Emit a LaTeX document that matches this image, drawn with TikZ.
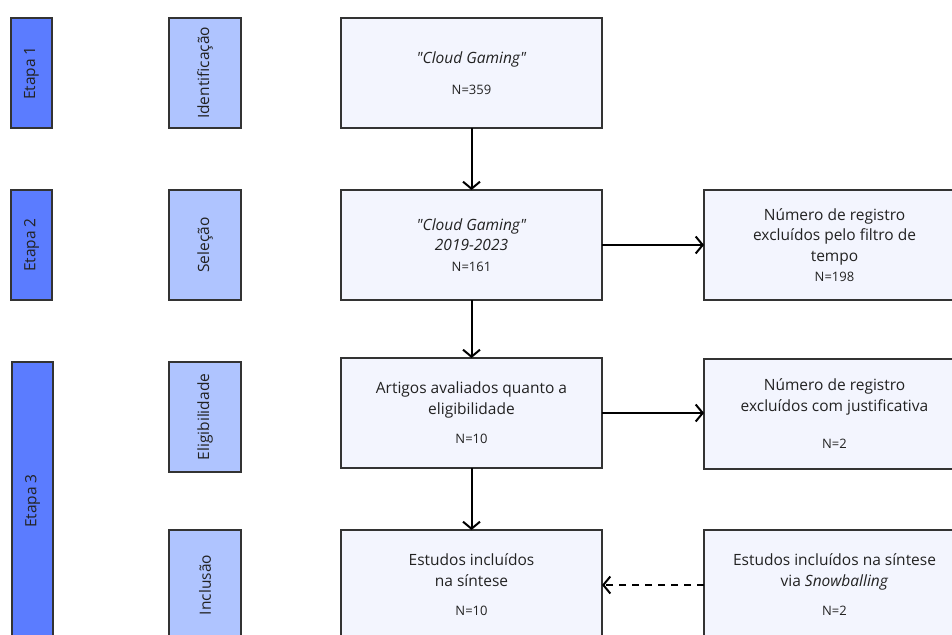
\documentclass[tikz,border=0pt]{standalone}
\usepackage{fontspec}
\setmainfont{Open Sans}[Ligatures=TeXOff]
\usepackage{graphicx}
\usetikzlibrary{arrows.meta,positioning}
\definecolor{etapablue}{HTML}{5B7CFF}
\definecolor{fasefill}{HTML}{AFC4FF}
\definecolor{caixafill}{HTML}{F3F5FE}
\definecolor{borda}{HTML}{333333}
\definecolor{texto}{HTML}{222222}
\newcommand{\nval}[1]{{\fontsize{13}{16}\selectfont N=#1}}
\newcommand{\vtext}[1]{\rotatebox{90}{#1}}

\begin{document}
\begin{tikzpicture}[x=1pt, y=-1pt, node distance=62pt,
  every node/.style={align=center, text=texto, outer sep=0pt, font=\fontsize{15.5}{20.5}\selectfont},
  caixa/.style={draw=borda, line width=1.3pt, fill=caixafill, minimum width=261pt, minimum height=110pt, inner sep=0pt},
  fase/.style={draw=borda, line width=1.3pt, fill=fasefill, minimum width=72pt, minimum height=110pt, inner sep=0pt},
  etapa/.style={draw=borda, line width=1.3pt, fill=etapablue, minimum width=41pt, minimum height=110pt, inner sep=0pt},
  seta/.style={line width=2pt, -{Straight Barb[length=7pt,width=17pt]}}]
\useasboundingbox (0,0) rectangle (952,634);
\clip (0,0) rectangle (952,634);
\node (busca) [caixa] at (471.5,73) {\textit{"Cloud Gaming"}\\[11pt]\nval{359}};
\node (filtro) [caixa, below=of busca] {\textit{"Cloud Gaming"}\\\textit{2019-2023}\\\nval{161}};
\node (eleg) [caixa, below=58pt of filtro] {Artigos avaliados quanto a\\eligibilidade\\[9pt]\nval{10}};
\node (incl) [caixa, below=of eleg] {Estudos incluídos\\na síntese\\[9pt]\nval{10}};
\node (exc1) [caixa, right=102pt of filtro] {Número de registro\\excluídos pelo filtro de\\tempo\\\nval{198}};
\node (exc2) [caixa, right=102pt of eleg, yshift=-1pt] {Número de registro\\excluídos com justificativa\\[17pt]\nval{2}};
\node (snow) [caixa, right=102pt of incl] {Estudos incluídos na síntese\\via \textit{Snowballing}\\[9pt]\nval{2}};
\node (fid) [fase, left=100pt of busca] {\vtext{Identificação}};
\node (fsel) [fase, left=100pt of filtro] {\vtext{Seleção}};
\node (feleg) [fase, left=100pt of eleg, yshift=-4pt] {\vtext{Eligibilidade}};
\node (fincl) [fase, left=100pt of incl] {\vtext{Inclusão}};
\node (et1) [etapa, left=117pt of fid] {\vtext{Etapa 1}};
\node (et2) [etapa, left=117pt of fsel] {\vtext{Etapa 2}};
\node (et3) [etapa, minimum height=278pt, anchor=north] at (32.5,362) {\vtext{Etapa 3}};
\draw[seta] (busca) -- (filtro);
\draw[seta] (filtro) -- (eleg);
\draw[seta] (eleg) -- (incl);
\draw[seta] (filtro) -- (exc1);
\draw[seta] (eleg.east) -- (exc2.west |- eleg.east);
\draw[seta, dash pattern=on 7pt off 6pt] (snow) -- (incl);
\end{tikzpicture}
\end{document}
